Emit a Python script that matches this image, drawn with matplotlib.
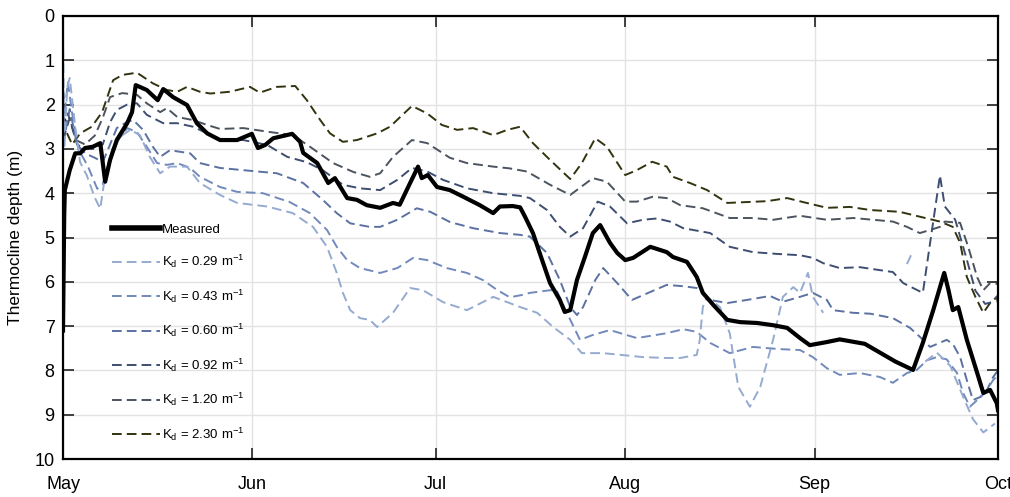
import numpy as np
import matplotlib
matplotlib.use("Agg")
import matplotlib.pyplot as plt

plt.rcParams['font.family'] = ['Liberation Sans', 'DejaVu Sans']
plt.rcParams['mathtext.default'] = 'regular'

nan = np.nan

# Days since 1 May
month_ticks = [0, 31, 61, 92, 123, 153]
month_labels = ['May', 'Jun', 'Jul', 'Aug', 'Sep', 'Oct']

# Measured thermocline depth (m)
meas_day = [0, 0.2, 0.3, 1.1, 2.0, 2.8, 3.6, 4.9, 6.1, 6.9, 7.7, 8.8, 10.5, 11.3, 11.9, 13.7,
            15.5, 16.4, 18.0, 20.3, 21.9, 23.6, 25.7, 28.5, 30.9, 31.9, 33.1, 34.4, 37.5, 38.8,
            39.3, 41.6, 43.4, 44.5, 46.5, 48.1, 49.7, 51.9, 54.0, 55.1, 56.8, 58.1, 58.7, 59.7,
            61.2, 63.3, 65.5, 68.2, 70.4, 71.5, 73.6, 74.8, 75.6, 76.9, 78.4, 79.7, 81.3, 82.1,
            83.0, 84.1, 85.4, 86.7, 87.9, 89.5, 90.7, 92.0, 93.3, 96.1, 98.8, 99.8, 102.1, 103.7,
            104.7, 106.4, 108.7, 110.8, 113.6, 116.2, 118.5, 120.6, 122.2, 125.0, 127.1, 131.2,
            133.7, 136.2, 139.1, 140.7, 142.4, 144.2, 144.9, 145.6, 146.5, 147.9, 149.6, 150.6,
            151.7, 152.8, 153.0]
meas_depth = [7.1, 4.5, 3.93, 3.48, 3.1, 3.1, 2.98, 2.95, 2.87, 3.74, 3.25, 2.8, 2.42, 2.17, 1.56, 1.67,
              1.9, 1.65, 1.83, 2.01, 2.42, 2.65, 2.8, 2.8, 2.66, 2.98, 2.91, 2.76, 2.66, 2.84,
              3.09, 3.32, 3.77, 3.66, 4.11, 4.15, 4.27, 4.33, 4.22, 4.26, 3.77, 3.4, 3.66, 3.59,
              3.86, 3.93, 4.08, 4.27, 4.45, 4.3, 4.29, 4.32, 4.53, 4.9, 5.51, 6.03, 6.41, 6.68,
              6.64, 5.96, 5.44, 4.9, 4.72, 5.12, 5.35, 5.51, 5.46, 5.21, 5.33, 5.44, 5.55, 5.89,
              6.25, 6.52, 6.86, 6.91, 6.93, 6.98, 7.04, 7.27, 7.43, 7.36, 7.3, 7.4,
              7.6, 7.8, 7.99, 7.38, 6.64, 5.8, 6.19, 6.64, 6.57, 7.31, 8.06, 8.51,
              8.44, 8.74, 8.9]

# Modelled thermocline depth for each light attenuation coefficient Kd
k029_day = [0, 0.2, 0.7, 1.1, 2.0, 2.8, 3.9, 5.2, 6.1, 6.9, 7.7, 9.3, 11.0, 12.6, 14.2, 15.9, 17.5,
            20.3, 22.4, 25.7, 28.5, 33.4, 37.6, 40.9, 43.2, 44.8, 45.8, 47.0, 48.6, 50.2, 51.4,
            54.0, 56.8, 58.9, 62.2, 66.1, 70.4, 72.7, 74.8, 77.6, 80.2, 83.0, 84.9, 88.4, 94.9,
            98.8, 101.0, 103.7, 104.2, 104.7, 105.4, 107.5, 109.1, 110.5, 112.4, 114.1, 116.2,
            117.8, 119.5, 120.6, 121.9, 122.7, 124.4, 125.0, 138.1, 139.1, 139.5, 141.1, 143.0,
            145.2, 147.3, 148.9, 150.6, 152.5]
k029_depth = [0.4, 3.0, 1.6, 1.4, 2.5, 3.3, 3.6, 4.1, 4.35, 3.6, 3.25, 2.73, 2.57, 2.69, 3.18, 3.55, 3.4,
              3.4, 3.77, 4.04, 4.22, 4.3, 4.45, 4.76, 5.21, 5.8, 6.25, 6.64, 6.82, 6.86, 7.02,
              6.7, 6.14, 6.19, 6.46, 6.64, 6.34, 6.46, 6.57, 6.7, 7.02, 7.31, 7.61, 7.61, 7.7,
              7.72, 7.72, 7.65, 7.31, 6.57, 6.34, 6.57, 7.16, 8.37, 8.82, 8.37, 7.31,
              6.34, 6.12, 6.25, 5.8, 6.34, 6.7, nan, 5.6, 5.3, nan, 7.8, 7.6,
              7.9, 8.6, 9.1, 9.4, 9.2]

k043_day = [0, 0.8, 1.5, 2.5, 4.1, 5.6, 6.5, 7.7, 8.2, 10.5, 12.1, 13.7, 15.4, 17.0, 18.7, 20.8,
            22.4, 25.7, 28.5, 32.7, 37.1, 40.4, 43.2, 44.8, 46.5, 48.6, 51.9, 54.7, 57.3, 59.6,
            62.8, 66.1, 68.7, 71.0, 73.1, 75.0, 76.4, 79.7, 80.8, 82.1, 84.6, 86.7, 89.5, 93.9,
            98.8, 101.5, 103.7, 105.9, 109.1, 112.9, 117.3, 120.6, 122.7, 125.0, 127.1, 130.4,
            133.7, 135.8, 138.1, 139.7, 141.4, 143.0, 144.6, 146.3, 147.3, 148.4, 149.6, 150.9,
            152.2, 153.0]
k043_depth = [2.5, 1.5, 2.2, 3.0, 3.4, 3.9, 3.8, 3.2, 2.95, 2.53, 2.62, 2.95, 3.32, 3.36, 3.32, 3.43,
              3.63, 3.86, 3.97, 4.0, 4.2, 4.45, 4.83, 5.21, 5.51, 5.69, 5.8, 5.69, 5.46, 5.51,
              5.69, 5.8, 5.96, 6.18, 6.35, 6.3, 6.25, 6.19, 6.2, 6.6, 7.31, 7.2, 7.09, 7.27,
              7.16, 7.07, 7.13, 7.38, 7.61, 7.47, 7.52, 7.54, 7.7, 7.95, 8.1, 8.06,
              8.15, 8.28, 8.06, 7.99, 7.77, 7.7, 7.75, 8.06, 8.51, 8.82, 8.67, 8.5,
              8.22, 8.1]

k060_day = [0, 1.1, 2.3, 3.6, 5.2, 6.5, 7.7, 8.8, 10.5, 11.5, 13.1, 14.7, 15.9, 17.5, 20.8, 22.4,
            25.7, 29.5, 35.0, 39.3, 42.5, 44.8, 47.0, 50.2, 51.9, 54.7, 57.9, 60.1, 63.3, 67.1,
            71.5, 74.8, 76.4, 79.2, 81.3, 83.0, 84.1, 85.1, 87.1, 88.4, 90.7, 93.1, 96.1, 98.8,
            101.5, 103.7, 105.9, 108.7, 111.9, 115.7, 117.8, 120.6, 122.7, 125.0, 126.0, 129.3,
            132.1, 135.8, 138.6, 140.2, 141.9, 144.6, 145.6, 146.8, 147.9, 148.9, 150.1, 151.2,
            152.2, 153.0]
k060_depth = [2.9, 2.1, 2.9, 3.1, 3.2, 3.3, 2.9, 2.53, 2.39, 2.35, 2.57, 2.95, 3.18, 3.03, 3.1, 3.32,
              3.43, 3.48, 3.55, 3.77, 4.15, 4.45, 4.68, 4.76, 4.76, 4.6, 4.34, 4.42, 4.65, 4.79,
              4.9, 4.94, 4.98, 5.35, 5.96, 6.57, 6.75, 6.57, 5.96, 5.69, 6.03, 6.41, 6.23, 6.07,
              6.1, 6.14, 6.41, 6.48, 6.41, 6.32, 6.45, 6.34, 6.25, 6.41, 6.64, 6.7,
              6.72, 6.82, 7.04, 7.24, 7.47, 7.31, 7.4, 7.7, 8.22, 8.67, 8.6, 8.44,
              8.15, 8.0]

k092_day = [0, 1.1, 2.3, 3.6, 5.2, 6.5, 7.7, 8.8, 10.5, 12.1, 13.7, 15.4, 16.4, 18.7, 21.3, 23.6,
            25.7, 29.5, 33.4, 36.7, 39.9, 42.5, 45.8, 48.6, 51.9, 54.7, 57.1, 59.6, 62.2, 66.1,
            70.4, 74.8, 76.4, 79.2, 81.3, 83.0, 85.1, 87.5, 89.5, 92.3, 94.9, 97.2, 99.3, 101.5,
            105.9, 109.1, 112.9, 116.8, 120.6, 122.7, 124.4, 127.1, 130.4, 135.8, 137.5, 139.1,
            140.7, 143.5, 144.3, 146.0, 147.9, 149.3, 150.9, 152.2, 153.0]
k092_depth = [2.8, 2.3, 2.9, 3.0, 3.0, 2.9, 2.4, 2.12, 2.0, 1.97, 2.23, 2.35, 2.42, 2.42, 2.5, 2.65,
              2.8, 2.8, 2.91, 3.18, 3.3, 3.48, 3.81, 3.89, 3.93, 3.7, 3.43, 3.51, 3.7, 3.89,
              4.0, 4.06, 4.11, 4.38, 4.76, 4.98, 4.79, 4.19, 4.3, 4.68, 4.6, 4.57, 4.64, 4.79,
              4.9, 5.21, 5.33, 5.37, 5.4, 5.46, 5.58, 5.69, 5.67, 5.78, 6.03, 6.14,
              6.25, 3.6, 4.3, 4.6, 5.5, 6.2, 6.5, 6.45, 6.3]

k120_day = [0, 0.8, 2.1, 3.6, 5.2, 6.5, 7.7, 9.7, 12.1, 13.7, 15.9, 17.0, 18.7, 21.3, 23.6, 25.7,
            29.5, 33.9, 37.6, 40.4, 44.2, 47.5, 50.2, 51.9, 54.0, 57.1, 59.6, 63.3, 66.1, 70.4,
            73.1, 75.9, 79.7, 83.0, 86.7, 89.0, 92.0, 93.9, 96.5, 98.8, 101.0, 104.7, 109.1, 112.9,
            116.2, 120.6, 125.0, 129.3, 135.8, 138.1, 140.2, 141.9, 143.5, 144.3, 146.8, 148.1,
            149.6, 150.6, 151.7, 153.0]
k120_depth = [2.9, 2.2, 2.8, 2.9, 2.7, 2.3, 1.83, 1.74, 1.78, 1.97, 2.17, 2.08, 2.28, 2.35, 2.46, 2.55,
              2.53, 2.62, 2.69, 2.95, 3.32, 3.52, 3.63, 3.55, 3.18, 2.8, 2.87, 3.2, 3.32, 3.4,
              3.44, 3.51, 3.81, 4.04, 3.66, 3.74, 4.19, 4.19, 4.08, 4.11, 4.27, 4.34, 4.56, 4.56,
              4.6, 4.51, 4.6, 4.56, 4.64, 4.76, 4.9, 4.83, 4.76, 4.64, 4.67, 5.2,
              5.9, 6.19, 6.03, 6.05]

k230_day = [0, 0.5, 1.5, 2.8, 4.7, 6.4, 8.2, 9.7, 12.1, 14.7, 17.0, 18.7, 20.3, 22.4, 24.1, 27.3,
            30.6, 32.2, 35.0, 38.0, 39.9, 42.1, 43.7, 45.8, 48.1, 51.4, 53.5, 57.1, 59.6, 62.0,
            64.5, 67.1, 70.4, 72.7, 74.8, 76.9, 79.7, 83.0, 84.9, 87.1, 89.0, 92.0, 93.9, 96.4,
            98.8, 99.8, 102.6, 105.4, 108.7, 111.9, 115.2, 118.5, 121.1, 125.0, 128.8, 132.1,
            136.9, 140.2, 143.5, 145.6, 146.8, 147.9, 149.3, 150.6, 151.7, 152.8, 153.0]
k230_depth = [1.65, 2.6, 2.9, 2.65, 2.5, 2.17, 1.45, 1.33, 1.28, 1.52, 1.67, 1.71, 1.6, 1.71, 1.75, 1.71,
              1.6, 1.73, 1.6, 1.58, 1.9, 2.35, 2.65, 2.84, 2.8, 2.65, 2.5, 2.03, 2.2, 2.46,
              2.57, 2.53, 2.69, 2.57, 2.5, 2.87, 3.25, 3.68, 3.32, 2.76, 2.95, 3.59, 3.48, 3.29,
              3.4, 3.63, 3.77, 3.93, 4.22, 4.2, 4.18, 4.11, 4.2, 4.33, 4.31, 4.38,
              4.42, 4.53, 4.64, 4.76, 5.12, 5.89, 6.34, 6.7, 6.48, 6.34, 6.5]

series = [
    (k029_day, k029_depth, '#95aad0', r'K$_d$ = 0.29 m$^{-1}$'),
    (k043_day, k043_depth, '#7189bb', r'K$_d$ = 0.43 m$^{-1}$'),
    (k060_day, k060_depth, '#5a71a2', r'K$_d$ = 0.60 m$^{-1}$'),
    (k092_day, k092_depth, '#3e4e70', r'K$_d$ = 0.92 m$^{-1}$'),
    (k120_day, k120_depth, '#4b545e', r'K$_d$ = 1.20 m$^{-1}$'),
    (k230_day, k230_depth, '#33330f', r'K$_d$ = 2.30 m$^{-1}$'),
]

fig = plt.figure(figsize=(10.10, 4.97), dpi=100)
ax = fig.add_axes([63 / 1010, 38 / 497, 935 / 1010, 443 / 497])

handles = []
for day, depth, color, label in reversed(series):
    h, = ax.plot(day, depth, color=color, lw=1.4, ls=(0, (5, 2.6)), label=label)
    handles.append(h)
handles = handles[::-1]
hm, = ax.plot(meas_day, meas_depth, color='black', lw=3.0, label='Measured',
              solid_joinstyle='round', zorder=5)

ax.set_xlim(0, 153)
ax.set_ylim(10, 0)
ax.set_xticks(month_ticks)
ax.set_xticklabels(month_labels)
ax.set_yticks(range(0, 11))
ax.grid(True, color='#e3e3e3', lw=1.0)
ax.set_axisbelow(True)
ax.tick_params(axis='both', direction='in', length=8, width=1.2, labelsize=13,
               top=True, right=True, color='#222222')
ax.tick_params(axis='x', pad=12)
ax.tick_params(axis='y', pad=6)
for s in ax.spines.values():
    s.set_linewidth(1.6)
ax.set_ylabel('Thermocline depth (m)', fontsize=12.5, labelpad=8)

leg = ax.legend([hm] + handles, ['Measured'] + [s[3] for s in series],
                loc='upper left', bbox_to_anchor=(0.052, 0.531), frameon=False,
                fontsize=9.5, handlelength=3.7, handletextpad=0.12, labelspacing=1.3,
                borderpad=0, borderaxespad=0)
leg.legend_handles[0].set_linewidth(4.0)

fig.savefig('out.png', dpi=100)
